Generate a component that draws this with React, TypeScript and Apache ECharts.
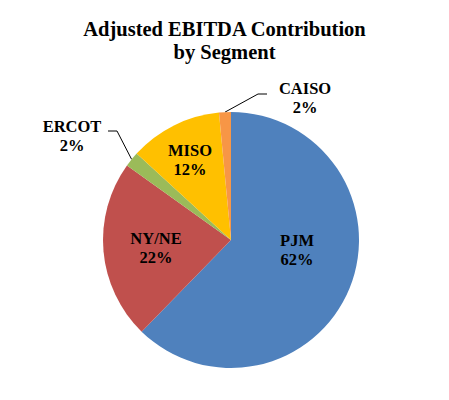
import React, { useEffect, useRef } from "react";
import * as echarts from "echarts";

const categories = ["PJM", "NY/NE", "ERCOT", "MISO", "CAISO"];
const values = [62.3, 22.6, 1.9, 11.7, 1.5];
const percentLabels = ["62%", "22%", "2%", "12%", "2%"];
const colors = ["#4F81BD", "#C0504D", "#9BBB59", "#FFC000", "#F79646"];
const outside = [false, false, true, false, true];

// label anchor positions (layout, not data)
const labelPos: [number, number][] = [
  [297, 250],
  [156, 248],
  [72, 136],
  [190, 160],
  [305, 98],
];
// leader-line elbow offsets relative to label anchor: [elbowX, elbowY, endX]
const leader: ([number, number, number] | null)[] = [
  null,
  null,
  [45, -5, 36],
  null,
  [-47, -4, -38],
];

export default function App() {
  const ref = useRef<HTMLDivElement>(null);
  useEffect(() => {
    if (!ref.current) return;
    const chart = echarts.init(ref.current, null, { renderer: "svg" });
    const font = "Liberation Serif";
    chart.setOption({
      animation: false,
      backgroundColor: "#ffffff",
      title: {
        text: "Adjusted EBITDA Contribution\nby Segment",
        left: "center",
        top: 12,
        textStyle: {
          fontFamily: font,
          fontWeight: "bold",
          fontSize: 20.5,
          lineHeight: 23,
          color: "#000",
        },
      },
      series: [
        {
          type: "pie",
          center: [231, 240],
          radius: 128,
          startAngle: 90,
          clockwise: true,
          avoidLabelOverlap: false,
          data: categories.map((name, i) => ({
            name,
            value: values[i],
            itemStyle: { color: colors[i] },
            label: {
              show: true,
              position: outside[i] ? "outside" : "inside",
              formatter: `{b}\n${percentLabels[i]}`,
              fontFamily: font,
              fontWeight: "bold",
              fontSize: 16.5,
              lineHeight: 19,
              color: "#000",
            },
            labelLine: {
              show: outside[i],
              length: 10,
              length2: 10,
              lineStyle: { color: "#000", width: 1 },
            },
          })),
          labelLayout: (params: any) => {
            const i = params.dataIndex;
            const [x, y] = labelPos[i];
            const res: any = { x, y, align: "center", verticalAlign: "middle" };
            const l = leader[i];
            if (l && params.labelLinePoints) {
              const p0 = params.labelLinePoints[0];
              res.labelLinePoints = [
                [p0[0], p0[1]],
                [x + l[0], y + l[1]],
                [x + l[2], y + l[1]],
              ];
            }
            return res;
          },
        },
      ],
    });
    return () => chart.dispose();
  }, []);
  return (
    <div
      ref={ref}
      style={{ position: "absolute", left: 0, top: 0, width: 449, height: 400 }}
    />
  );
}
